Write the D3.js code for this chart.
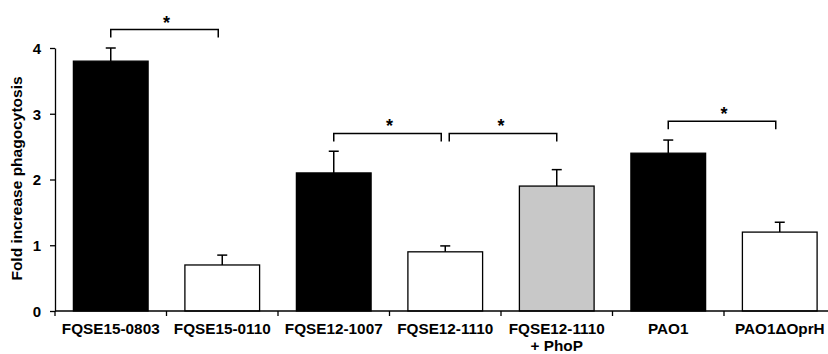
<!DOCTYPE html>
<html>
<head>
<meta charset="utf-8">
<script src="https://cdn.jsdelivr.net/npm/d3@7"></script>
<style>
  body { margin: 0; background: #fff; }
  text { font-family: "Liberation Sans", Arial, sans-serif; font-weight: bold; fill: #000; }
</style>
</head>
<body>
<div id="chart"></div>
<script>
// data
var strains = ["FQSE15-0803", "FQSE15-0110", "FQSE12-1007", "FQSE12-1110", "FQSE12-1110\n+ PhoP", "PAO1", "PAO1\u0394OprH"];
var foldIncrease = [3.8, 0.7, 2.1, 0.9, 1.9, 2.4, 1.2];
var errors = [0.2, 0.15, 0.33, 0.09, 0.25, 0.2, 0.15];
var barFill = ["#000", "#fff", "#000", "#fff", "#c8c8c8", "#000", "#fff"];
var yTicks = [0, 1, 2, 3, 4];
// significance brackets: from bar, to bar, height
var bracketFrom = [0, 2, 3, 5];
var bracketTo = [1, 3, 4, 6];
var bracketLevel = [4.28, 2.70, 2.70, 2.885];

var W = 828, H = 354;
var svg = d3.select("#chart").append("svg")
  .attr("width", W)
  .attr("height", H);

var x = d3.scaleBand()
  .domain(d3.range(strains.length))
  .range([55, 835.5])
  .paddingInner(0.33)
  .paddingOuter(0.165);

var y = d3.scaleLinear()
  .domain([0, 4])
  .range([311, 48]);

// bars
svg.selectAll("rect.bar")
  .data(foldIncrease)
  .enter()
  .append("rect")
  .attr("class", "bar")
  .attr("x", function(d, i) { return x(i); })
  .attr("y", function(d) { return y(d); })
  .attr("width", x.bandwidth())
  .attr("height", function(d) { return y(0) - y(d); })
  .attr("fill", function(d, i) { return barFill[i]; })
  .attr("stroke", "#000")
  .attr("stroke-width", 1.3);

// error bars (upper only)
var eb = svg.selectAll("g.err")
  .data(foldIncrease)
  .enter()
  .append("g")
  .attr("class", "err")
  .attr("stroke", "#000")
  .attr("stroke-width", 1.5);
eb.append("line")
  .attr("x1", function(d, i) { return x(i) + x.bandwidth() / 2; })
  .attr("x2", function(d, i) { return x(i) + x.bandwidth() / 2; })
  .attr("y1", function(d) { return y(d); })
  .attr("y2", function(d, i) { return y(d + errors[i]); });
eb.append("line")
  .attr("x1", function(d, i) { return x(i) + x.bandwidth() / 2 - 5; })
  .attr("x2", function(d, i) { return x(i) + x.bandwidth() / 2 + 5; })
  .attr("y1", function(d, i) { return y(d + errors[i]); })
  .attr("y2", function(d, i) { return y(d + errors[i]); });

// y axis
var yAxis = svg.append("g")
  .attr("transform", "translate(55,0)")
  .call(d3.axisLeft(y).tickValues(yTicks).tickFormat(d3.format("d"))
    .tickSize(5).tickPadding(9).tickSizeOuter(0));
yAxis.select(".domain").attr("stroke-width", 1.3);
yAxis.selectAll(".tick line").attr("stroke-width", 1.3);
yAxis.selectAll("text")
  .attr("font-size", 15)
  .attr("font-family", null)
  .attr("dy", "0.36em");

// x axis line with ticks at band boundaries
var step = x.step();
var edges = d3.range(strains.length + 1).map(function(i) {
  return i < strains.length ? x(i) - step * x.paddingInner() / 2 : x(i - 1) + x.bandwidth() + step * x.paddingInner() / 2;
});
svg.append("line")
  .attr("x1", 55).attr("x2", W)
  .attr("y1", y(0)).attr("y2", y(0))
  .attr("stroke", "#000").attr("stroke-width", 1.3);
svg.selectAll("line.xtick")
  .data(edges)
  .enter()
  .append("line")
  .attr("class", "xtick")
  .attr("x1", function(d) { return d; })
  .attr("x2", function(d) { return d; })
  .attr("y1", y(0))
  .attr("y2", y(0) + 5)
  .attr("stroke", "#000").attr("stroke-width", 1.3);

// category labels
var lab = svg.selectAll("text.cat")
  .data(strains)
  .enter()
  .append("text")
  .attr("class", "cat")
  .attr("font-size", 15.3)
  .attr("text-anchor", "middle")
  .attr("transform", function(d, i) {
    return "translate(" + (x(i) + x.bandwidth() / 2) + ",334)";
  });
lab.selectAll("tspan")
  .data(function(d) { return d.split("\n"); })
  .enter()
  .append("tspan")
  .attr("x", 0)
  .attr("dy", function(d, i) { return i === 0 ? 0 : 16.5; })
  .text(function(d) { return d; });

// y label
svg.append("text")
  .attr("transform", "translate(22," + ((y(0) + y(4)) / 2 - 1) + ") rotate(-90)")
  .attr("text-anchor", "middle")
  .attr("font-size", 15.5)
  .text("Fold increase phagocytosis");

// significance brackets
var cx = function(i) { return x(i) + x.bandwidth() / 2; };
var br = svg.selectAll("g.br")
  .data(bracketLevel)
  .enter()
  .append("g")
  .attr("class", "br");
br.append("path")
  .attr("fill", "none")
  .attr("stroke", "#000")
  .attr("stroke-width", 1.5)
  .attr("d", function(d, i) {
    var a = cx(bracketFrom[i]), b = cx(bracketTo[i]);
    // keep a small gap where two brackets meet
    if (i === 2) { a += 4; } else { b -= 4; }
    var yy = y(d);
    return "M" + a + "," + (yy + 8) + "V" + yy + "H" + b + "V" + (yy + 8);
  });
br.append("text")
  .attr("x", function(d, i) { return (cx(bracketFrom[i]) + cx(bracketTo[i])) / 2; })
  .attr("y", function(d) { return y(d) - 1; })
  .attr("text-anchor", "middle")
  .attr("font-size", 18)
  .text("*");
</script>
</body>
</html>
